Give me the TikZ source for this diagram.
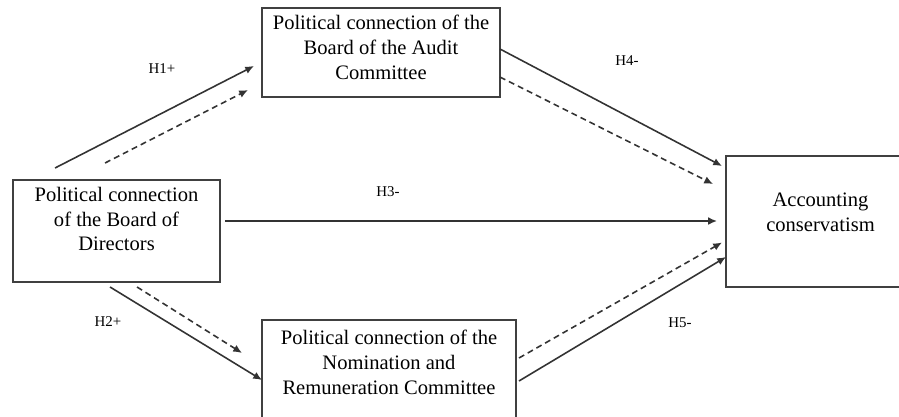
\documentclass[tikz,border=0pt]{standalone}
\usepackage{fontspec}
\setmainfont{Liberation Serif}
\usetikzlibrary{arrows.meta}

\tikzset{
  box/.style={draw=black!75, line width=1.1pt, inner sep=0pt, outer sep=0pt},
  boxtext/.style={align=center, inner sep=0pt, font=\fontsize{11.7}{14.2}\selectfont},
  hyp/.style={inner sep=0pt, font=\fontsize{8.5}{10}\selectfont},
  link/.style={draw=black!80, line width=0.9pt, -{Latex[length=5pt,width=4.4pt]}},
  linkd/.style={link, dash pattern=on 3.4pt off 2.3pt},
}

\begin{document}
\begin{tikzpicture}[x=0.02cm, y=-0.02cm]
\clip (0,0) rectangle (899,416);

%%%%------------Bokse----------------%%
\node [box, minimum width=4.76cm, minimum height=1.78cm] (audit) at (381,52.5)  {};
\node [box, minimum width=4.14cm, minimum height=2.04cm] (board) at (116.5,231) {};
\node [box, minimum width=5.08cm, minimum height=2.10cm] (nomin) at (389,372.5) {};
\node [box, minimum width=3.78cm, minimum height=2.62cm] (accnt) at (820.5,221.5) {};

%%%%------------Tekst----------------%%
\node [boxtext] (audittxt) at ([yshift=0.11cm]audit.center) {Political connection of the\\Board of the Audit\\Committee};
\node [boxtext] (boardtxt) at ([yshift=0.24cm]board.center) {Political connection\\of the Board of\\Directors};
\node [boxtext] (nomintxt) at ([yshift=0.21cm]nomin.center) {Political connection of the\\Nomination and\\Remuneration Committee};
\node [boxtext] (accnttxt) at ([yshift=0.18cm]accnt.center) {Accounting\\conservatism};

%%%%------------Pile----------------%%
% H1
\draw [link]  ([shift={(42,-12)}]board.north west)  -- ([shift={(-8,13.5)}]audit.west)	;
\draw [linkd] ([shift={(92,-17)}]board.north west)  -- ([shift={(-14,37.5)}]audit.west)	;
% H3
\draw [link]  ([shift={(5,-10)}]board.east)         -- ([shift={(-9,-0.5)}]accnt.west)	;
% H4
\draw [link]  ([shift={(0,-3.5)}]audit.east)        -- ([shift={(-4,10)}]accnt.north west)	;
\draw [linkd] ([shift={(0,24.5)}]audit.east)        -- ([shift={(-13,28)}]accnt.north west)	;
% H2
\draw [link]  ([shift={(97,5)}]board.south west)    -- ([shift={(0,7.5)}]nomin.west)	;
\draw [linkd] ([shift={(124,5)}]board.south west)   -- ([shift={(-20,-19.5)}]nomin.west)	;
% H5
\draw [link]  ([shift={(3,8.5)}]nomin.east)         -- ([shift={(0,35.5)}]accnt.west)	;
\draw [linkd] ([shift={(3,-14.5)}]nomin.east)       -- ([shift={(-4,21)}]accnt.west)	;

%%%%------------Hypoteser----------------%%
\node [hyp] (h1) at (162,69)  {H1+}	;
\node [hyp] (h2) at (108,322) {H2+}	;
\node [hyp] (h3) at (388,192) {H3-}	;
\node [hyp] (h4) at (627,61)  {H4-}	;
\node [hyp] (h5) at (680,323) {H5-}	;
\end{tikzpicture}
\end{document}
